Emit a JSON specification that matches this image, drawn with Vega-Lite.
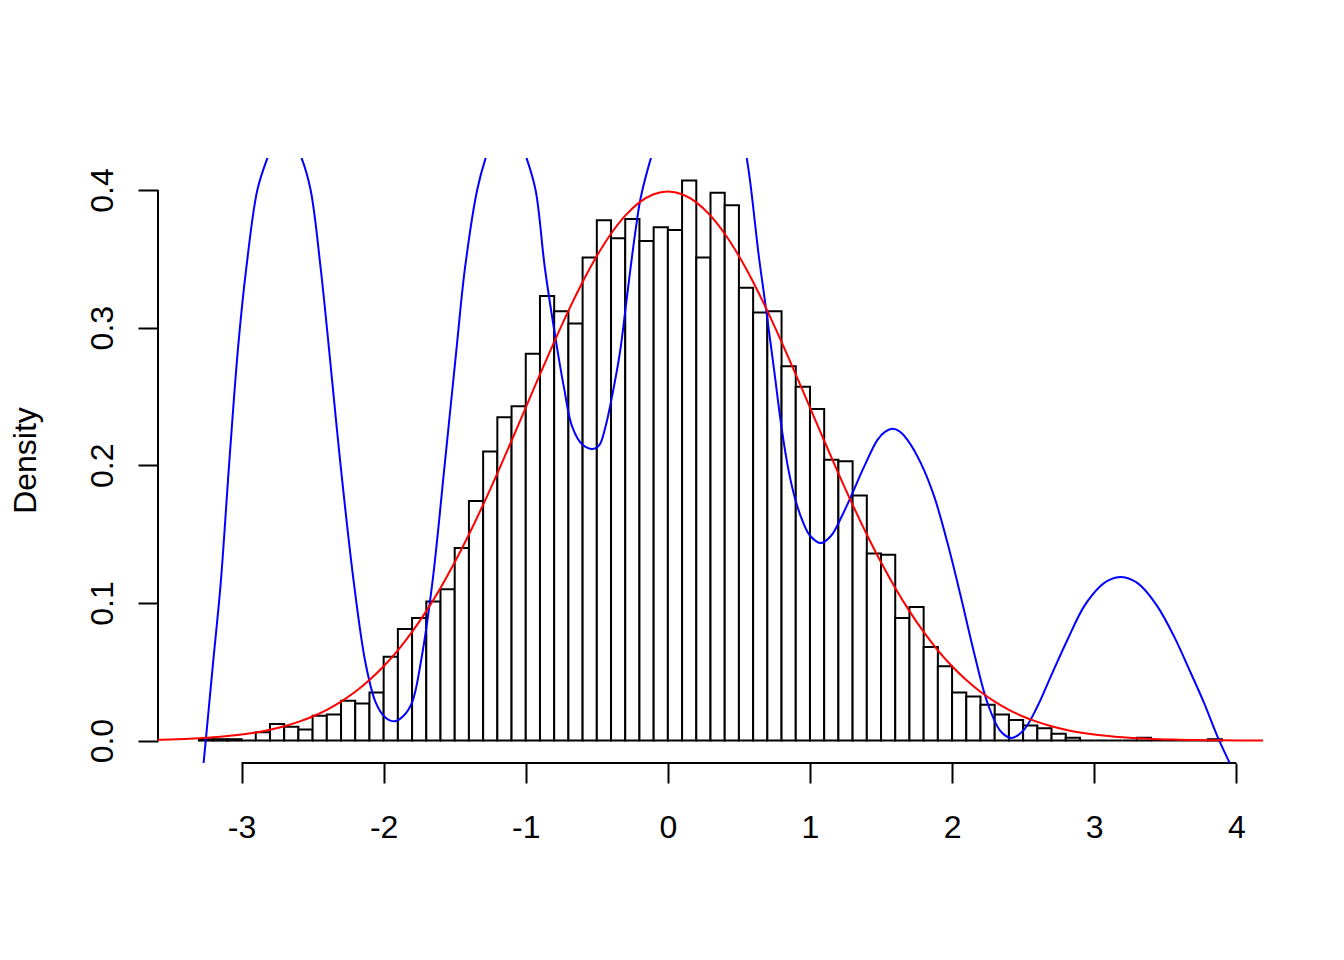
{
  "$schema": "https://vega.github.io/schema/vega-lite/v6.json",
  "width": 1105,
  "height": 605,
  "autosize": {"type": "none"},
  "padding": {"left": 158, "top": 158, "right": 81, "bottom": 197},
  "background": "white",
  "config": {"view": {"stroke": null}, "font": "Liberation Sans", "axis": {"grid": false}},
  "datasets": {
    "hist": [
      {"x0": -3.3, "x1": -3.2, "density": 0.001},
      {"x0": -3.2, "x1": -3.1, "density": 0.001},
      {"x0": -3.1, "x1": -3.0, "density": 0.001},
      {"x0": -3.0, "x1": -2.9, "density": 0},
      {"x0": -2.9, "x1": -2.8, "density": 0.006},
      {"x0": -2.8, "x1": -2.7, "density": 0.012},
      {"x0": -2.7, "x1": -2.6, "density": 0.010},
      {"x0": -2.6, "x1": -2.5, "density": 0.008},
      {"x0": -2.5, "x1": -2.4, "density": 0.018},
      {"x0": -2.4, "x1": -2.3, "density": 0.019},
      {"x0": -2.3, "x1": -2.2, "density": 0.029},
      {"x0": -2.2, "x1": -2.1, "density": 0.027},
      {"x0": -2.1, "x1": -2.0, "density": 0.035},
      {"x0": -2.0, "x1": -1.9, "density": 0.061},
      {"x0": -1.9, "x1": -1.8, "density": 0.081},
      {"x0": -1.8, "x1": -1.7, "density": 0.089},
      {"x0": -1.7, "x1": -1.6, "density": 0.101},
      {"x0": -1.6, "x1": -1.5, "density": 0.110},
      {"x0": -1.5, "x1": -1.4, "density": 0.140},
      {"x0": -1.4, "x1": -1.3, "density": 0.174},
      {"x0": -1.3, "x1": -1.2, "density": 0.210},
      {"x0": -1.2, "x1": -1.1, "density": 0.235},
      {"x0": -1.1, "x1": -1.0, "density": 0.243},
      {"x0": -1.0, "x1": -0.9, "density": 0.281},
      {"x0": -0.9, "x1": -0.8, "density": 0.323},
      {"x0": -0.8, "x1": -0.7, "density": 0.312},
      {"x0": -0.7, "x1": -0.6, "density": 0.303},
      {"x0": -0.6, "x1": -0.5, "density": 0.351},
      {"x0": -0.5, "x1": -0.4, "density": 0.378},
      {"x0": -0.4, "x1": -0.3, "density": 0.365},
      {"x0": -0.3, "x1": -0.2, "density": 0.379},
      {"x0": -0.2, "x1": -0.1, "density": 0.363},
      {"x0": -0.1, "x1": 0.0, "density": 0.373},
      {"x0": 0.0, "x1": 0.1, "density": 0.371},
      {"x0": 0.1, "x1": 0.2, "density": 0.407},
      {"x0": 0.2, "x1": 0.3, "density": 0.351},
      {"x0": 0.3, "x1": 0.4, "density": 0.398},
      {"x0": 0.4, "x1": 0.5, "density": 0.389},
      {"x0": 0.5, "x1": 0.6, "density": 0.329},
      {"x0": 0.6, "x1": 0.7, "density": 0.311},
      {"x0": 0.7, "x1": 0.8, "density": 0.312},
      {"x0": 0.8, "x1": 0.9, "density": 0.272},
      {"x0": 0.9, "x1": 1.0, "density": 0.257},
      {"x0": 1.0, "x1": 1.1, "density": 0.241},
      {"x0": 1.1, "x1": 1.2, "density": 0.204},
      {"x0": 1.2, "x1": 1.3, "density": 0.203},
      {"x0": 1.3, "x1": 1.4, "density": 0.178},
      {"x0": 1.4, "x1": 1.5, "density": 0.136},
      {"x0": 1.5, "x1": 1.6, "density": 0.135},
      {"x0": 1.6, "x1": 1.7, "density": 0.089},
      {"x0": 1.7, "x1": 1.8, "density": 0.097},
      {"x0": 1.8, "x1": 1.9, "density": 0.068},
      {"x0": 1.9, "x1": 2.0, "density": 0.054},
      {"x0": 2.0, "x1": 2.1, "density": 0.035},
      {"x0": 2.1, "x1": 2.2, "density": 0.032},
      {"x0": 2.2, "x1": 2.3, "density": 0.026},
      {"x0": 2.3, "x1": 2.4, "density": 0.019},
      {"x0": 2.4, "x1": 2.5, "density": 0.015},
      {"x0": 2.5, "x1": 2.6, "density": 0.011},
      {"x0": 2.6, "x1": 2.7, "density": 0.009},
      {"x0": 2.7, "x1": 2.8, "density": 0.005},
      {"x0": 2.8, "x1": 2.9, "density": 0.002},
      {"x0": 2.9, "x1": 3.0, "density": 0},
      {"x0": 3.0, "x1": 3.1, "density": 0},
      {"x0": 3.1, "x1": 3.2, "density": 0},
      {"x0": 3.2, "x1": 3.3, "density": 0},
      {"x0": 3.3, "x1": 3.4, "density": 0.002},
      {"x0": 3.4, "x1": 3.5, "density": 0},
      {"x0": 3.5, "x1": 3.6, "density": 0},
      {"x0": 3.6, "x1": 3.7, "density": 0},
      {"x0": 3.7, "x1": 3.8, "density": 0},
      {"x0": 3.8, "x1": 3.9, "density": 0.001}
    ],
    "normal": [
      {"x": -3.6, "y": 0.00061}, {"x": -3.5, "y": 0.00087}, {"x": -3.4, "y": 0.00123}, {"x": -3.3, "y": 0.00172},
      {"x": -3.2, "y": 0.00238}, {"x": -3.1, "y": 0.00327}, {"x": -3.0, "y": 0.00443}, {"x": -2.9, "y": 0.00595},
      {"x": -2.8, "y": 0.00792}, {"x": -2.7, "y": 0.01042}, {"x": -2.6, "y": 0.01358}, {"x": -2.5, "y": 0.01753},
      {"x": -2.4, "y": 0.02239}, {"x": -2.3, "y": 0.02833}, {"x": -2.2, "y": 0.03547}, {"x": -2.1, "y": 0.04398},
      {"x": -2.0, "y": 0.05399}, {"x": -1.9, "y": 0.06562}, {"x": -1.8, "y": 0.07895}, {"x": -1.7, "y": 0.09405},
      {"x": -1.6, "y": 0.11092}, {"x": -1.5, "y": 0.12952}, {"x": -1.4, "y": 0.14973}, {"x": -1.3, "y": 0.17137},
      {"x": -1.2, "y": 0.19419}, {"x": -1.1, "y": 0.21785}, {"x": -1.0, "y": 0.24197}, {"x": -0.9, "y": 0.26609},
      {"x": -0.8, "y": 0.28969}, {"x": -0.7, "y": 0.31225}, {"x": -0.6, "y": 0.33322}, {"x": -0.5, "y": 0.35207},
      {"x": -0.4, "y": 0.36827}, {"x": -0.3, "y": 0.38139}, {"x": -0.2, "y": 0.39104}, {"x": -0.1, "y": 0.39695},
      {"x": 0.0, "y": 0.39894}, {"x": 0.1, "y": 0.39695}, {"x": 0.2, "y": 0.39104}, {"x": 0.3, "y": 0.38139},
      {"x": 0.4, "y": 0.36827}, {"x": 0.5, "y": 0.35207}, {"x": 0.6, "y": 0.33322}, {"x": 0.7, "y": 0.31225},
      {"x": 0.8, "y": 0.28969}, {"x": 0.9, "y": 0.26609}, {"x": 1.0, "y": 0.24197}, {"x": 1.1, "y": 0.21785},
      {"x": 1.2, "y": 0.19419}, {"x": 1.3, "y": 0.17137}, {"x": 1.4, "y": 0.14973}, {"x": 1.5, "y": 0.12952},
      {"x": 1.6, "y": 0.11092}, {"x": 1.7, "y": 0.09405}, {"x": 1.8, "y": 0.07895}, {"x": 1.9, "y": 0.06562},
      {"x": 2.0, "y": 0.05399}, {"x": 2.1, "y": 0.04398}, {"x": 2.2, "y": 0.03547}, {"x": 2.3, "y": 0.02833},
      {"x": 2.4, "y": 0.02239}, {"x": 2.5, "y": 0.01753}, {"x": 2.6, "y": 0.01358}, {"x": 2.7, "y": 0.01042},
      {"x": 2.8, "y": 0.00792}, {"x": 2.9, "y": 0.00595}, {"x": 3.0, "y": 0.00443}, {"x": 3.1, "y": 0.00327},
      {"x": 3.2, "y": 0.00238}, {"x": 3.3, "y": 0.00172}, {"x": 3.4, "y": 0.00123}, {"x": 3.5, "y": 0.00087},
      {"x": 3.6, "y": 0.00061}, {"x": 3.7, "y": 0.00042}, {"x": 3.8, "y": 0.00029}, {"x": 3.9, "y": 0.0002},
      {"x": 4.0, "y": 0.00013}, {"x": 4.1, "y": 0.00009}, {"x": 4.2, "y": 0.00006}
    ],
    "blue": [
      {"x": -3.28, "y": -0.03}, {"x": -3.252, "y": 0}, {"x": -3.2, "y": 0.057}, {"x": -3.147, "y": 0.114},
      {"x": -3.088, "y": 0.2}, {"x": -3.025, "y": 0.285}, {"x": -2.967, "y": 0.343}, {"x": -2.889, "y": 0.4},
      {"x": -2.819, "y": 0.423}, {"x": -2.76, "y": 0.437}, {"x": -2.7, "y": 0.442}, {"x": -2.64, "y": 0.436},
      {"x": -2.577, "y": 0.423}, {"x": -2.514, "y": 0.4}, {"x": -2.443, "y": 0.343}, {"x": -2.385, "y": 0.285},
      {"x": -2.303, "y": 0.2}, {"x": -2.209, "y": 0.114}, {"x": -2.127, "y": 0.056}, {"x": -2.057, "y": 0.028},
      {"x": -1.99, "y": 0.017}, {"x": -1.921, "y": 0.014}, {"x": -1.86, "y": 0.018}, {"x": -1.799, "y": 0.028},
      {"x": -1.74, "y": 0.056}, {"x": -1.658, "y": 0.114}, {"x": -1.571, "y": 0.2}, {"x": -1.487, "y": 0.285},
      {"x": -1.428, "y": 0.343}, {"x": -1.342, "y": 0.4}, {"x": -1.283, "y": 0.423}, {"x": -1.22, "y": 0.44},
      {"x": -1.14, "y": 0.447}, {"x": -1.06, "y": 0.44}, {"x": -0.994, "y": 0.423}, {"x": -0.931, "y": 0.4},
      {"x": -0.865, "y": 0.343}, {"x": -0.779, "y": 0.285}, {"x": -0.732, "y": 0.257}, {"x": -0.673, "y": 0.228},
      {"x": -0.6, "y": 0.215}, {"x": -0.521, "y": 0.212}, {"x": -0.48, "y": 0.215}, {"x": -0.439, "y": 0.228},
      {"x": -0.38, "y": 0.257}, {"x": -0.333, "y": 0.285}, {"x": -0.298, "y": 0.314}, {"x": -0.263, "y": 0.343},
      {"x": -0.227, "y": 0.371}, {"x": -0.192, "y": 0.394}, {"x": -0.12, "y": 0.423}, {"x": -0.05, "y": 0.445},
      {"x": 0.05, "y": 0.465}, {"x": 0.2, "y": 0.485}, {"x": 0.35, "y": 0.485}, {"x": 0.45, "y": 0.47},
      {"x": 0.51, "y": 0.448}, {"x": 0.568, "y": 0.4145}, {"x": 0.64, "y": 0.352}, {"x": 0.685, "y": 0.318},
      {"x": 0.748, "y": 0.269}, {"x": 0.802, "y": 0.226}, {"x": 0.85, "y": 0.196}, {"x": 0.9, "y": 0.174},
      {"x": 0.95, "y": 0.159}, {"x": 1.0, "y": 0.149}, {"x": 1.076, "y": 0.1435}, {"x": 1.15, "y": 0.149},
      {"x": 1.224, "y": 0.163}, {"x": 1.287, "y": 0.177}, {"x": 1.381, "y": 0.199}, {"x": 1.475, "y": 0.2185},
      {"x": 1.53, "y": 0.2245}, {"x": 1.581, "y": 0.2265}, {"x": 1.63, "y": 0.2247}, {"x": 1.686, "y": 0.2185},
      {"x": 1.78, "y": 0.2016},
      {"x": 1.874, "y": 0.1774}, {"x": 1.968, "y": 0.1435}, {"x": 2.061, "y": 0.1048}, {"x": 2.155, "y": 0.0637},
      {"x": 2.249, "y": 0.0274}, {"x": 2.343, "y": 0.0066}, {"x": 2.42, "y": 0.0019}, {"x": 2.507, "y": 0.008},
      {"x": 2.601, "y": 0.0249}, {"x": 2.695, "y": 0.0467}, {"x": 2.812, "y": 0.0733}, {"x": 2.929, "y": 0.0975},
      {"x": 3.046, "y": 0.1125}, {"x": 3.1, "y": 0.1164}, {"x": 3.187, "y": 0.1188}, {"x": 3.27, "y": 0.1166},
      {"x": 3.328, "y": 0.1125}, {"x": 3.445, "y": 0.0975},
      {"x": 3.562, "y": 0.0757}, {"x": 3.68, "y": 0.0491}, {"x": 3.773, "y": 0.0274}, {"x": 3.867, "y": 0.0031},
      {"x": 3.961, "y": -0.018}, {"x": 3.99, "y": -0.025}
    ]
  },
  "layer": [
    {
      "data": {"name": "hist"},
      "mark": {"type": "rect", "fill": "white", "stroke": "black", "strokeWidth": 2},
      "encoding": {
        "x": {
          "field": "x0", "type": "quantitative", "title": null,
          "scale": {"domain": [-3.588, 4.188], "nice": false, "zero": false},
          "axis": {
            "title": null, "values": [-3, -2, -1, 0, 1, 2, 3, 4], "domain": false,
            "tickSize": 20, "tickWidth": 2, "tickColor": "black",
            "labelExpr": "toString(datum.value)", "labelFont": "Liberation Sans", "labelFontSize": 32,
            "labelColor": "black", "labelBaseline": "alphabetic", "labelPadding": 54,
            "labelFlush": false, "labelOverlap": false, "labelBound": false
          }
        },
        "x2": {"field": "x1"},
        "y": {
          "field": "density", "type": "quantitative", "title": "Density",
          "scale": {"domain": [-0.01628, 0.42328], "nice": false, "zero": false},
          "axis": {
            "title": "Density", "values": [0, 0.1, 0.2, 0.3, 0.4], "format": ".1f", "domain": false,
            "tickSize": 20, "tickWidth": 2, "tickColor": "black",
            "labelFont": "Liberation Sans", "labelFontSize": 32, "labelColor": "black",
            "labelAngle": -90, "labelAlign": "center", "labelBaseline": "alphabetic", "labelPadding": 26,
            "labelFlush": false, "labelOverlap": false, "labelBound": false,
            "titleFont": "Liberation Sans", "titleFontSize": 32, "titleFontWeight": "normal", "titleColor": "black",
            "titleAngle": -90, "titleAlign": "center", "titleBaseline": "alphabetic", "titleX": -123, "titleY": 302
          }
        },
        "y2": {"datum": 0}
      }
    },
    {
      "data": {"values": [{}]},
      "mark": {"type": "rule", "stroke": "black", "strokeWidth": 2},
      "encoding": {
        "x": {"datum": -3, "type": "quantitative", "title": null},
        "x2": {"datum": 4},
        "y": {"datum": -0.01628, "type": "quantitative", "title": "Density"}
      }
    },
    {
      "data": {"values": [{}]},
      "mark": {"type": "rule", "stroke": "black", "strokeWidth": 2},
      "encoding": {
        "x": {"datum": -3.588, "type": "quantitative", "title": null},
        "y": {"datum": 0, "type": "quantitative", "title": "Density"},
        "y2": {"datum": 0.4}
      }
    },
    {
      "data": {"name": "blue"},
      "mark": {"type": "line", "stroke": "#0000FF", "strokeWidth": 2, "clip": true, "interpolate": "catmull-rom"},
      "encoding": {
        "x": {"field": "x", "type": "quantitative", "title": null},
        "y": {"field": "y", "type": "quantitative", "title": "Density"}
      }
    },
    {
      "data": {"name": "normal"},
      "mark": {"type": "line", "stroke": "#FF0000", "strokeWidth": 2, "clip": true, "interpolate": "monotone"},
      "encoding": {
        "x": {"field": "x", "type": "quantitative", "title": null},
        "y": {"field": "y", "type": "quantitative", "title": "Density"}
      }
    }
  ]
}
